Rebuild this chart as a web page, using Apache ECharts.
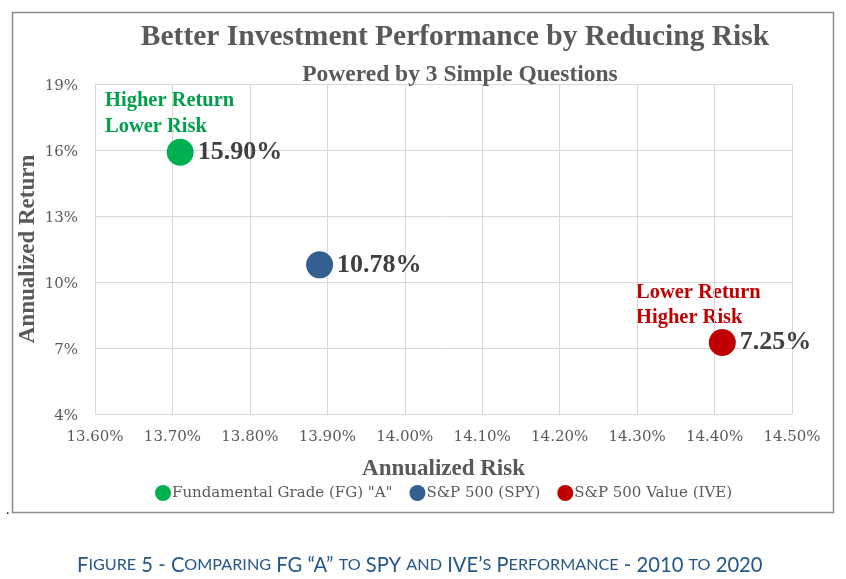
<!DOCTYPE html>
<html><head><meta charset="utf-8">
<script src="https://cdn.jsdelivr.net/npm/echarts@6/dist/echarts.min.js"></script>
<style>html,body{margin:0;padding:0;background:#fff}#c{width:846px;height:579px}</style>
</head><body><div id="c"></div>
<script>
const seriesNames = ['Fundamental Grade (FG) "A"', 'S&P 500 (SPY)', 'S&P 500 Value (IVE)'];
const riskValues = [13.71, 13.89, 14.41];
const returnValues = [15.90, 10.78, 7.25];
const seriesColors = ['#00B050', '#355E91', '#C00000'];
const xTicks = [13.6, 13.7, 13.8, 13.9, 14.0, 14.1, 14.2, 14.3, 14.4, 14.5];
const yTicks = [4, 7, 10, 13, 16, 19];

const chart = echarts.init(document.getElementById('c'), null, {renderer: 'canvas'});
const grey = '#595959';
const serif = '"Liberation Serif", serif';
const dserif = '"DejaVu Serif", serif';

const series = seriesNames.map((n, i) => ({
  name: n,
  type: 'scatter',
  symbolSize: 27,
  itemStyle: {color: seriesColors[i], opacity: 1},
  data: [[riskValues[i], returnValues[i]]],
  label: {
    show: true, position: 'right', distance: 4,
    formatter: p => p.value[1].toFixed(2) + '%',
    fontFamily: serif, fontWeight: 'bold', fontSize: 26, color: '#404040'
  },
  emphasis: {disabled: true}
}));

chart.setOption({
  animation: false,
  title: [
    {text: 'Better Investment Performance by Reducing Risk', left: 450, textAlign: 'center', top: 17,
     textStyle: {fontFamily: serif, fontWeight: 'bold', fontSize: 29.5, color: grey}},
    {text: 'Powered by 3 Simple Questions', left: 455, textAlign: 'center', top: 58,
     textStyle: {fontFamily: serif, fontWeight: 'bold', fontSize: 23.5, color: grey}}
  ],
  grid: {left: 95, right: 54, top: 84, bottom: 165, containLabel: false},
  xAxis: {
    type: 'value', min: xTicks[0], max: xTicks[xTicks.length - 1], interval: 0.1,
    name: 'Annualized Risk', nameLocation: 'middle', nameGap: 44,
    nameTextStyle: {fontFamily: serif, fontWeight: 'bold', fontSize: 23, color: grey},
    axisLine: {show: true, lineStyle: {color: '#d9d9d9', width: 1}},
    axisTick: {show: false},
    splitLine: {show: true, lineStyle: {color: '#d9d9d9', width: 1}},
    axisLabel: {formatter: v => v.toFixed(2) + '%', margin: 16,
      fontFamily: dserif, fontSize: 15, color: grey}
  },
  yAxis: {
    type: 'value', min: yTicks[0], max: yTicks[yTicks.length - 1], interval: 3,
    name: 'Annualized Return', nameLocation: 'middle', nameGap: 55, nameRotate: 90,
    nameMoveOverlap: false,
    nameTextStyle: {fontFamily: serif, fontWeight: 'bold', fontSize: 23, color: grey},
    axisLine: {show: true, lineStyle: {color: '#d9d9d9', width: 1}},
    axisTick: {show: false},
    splitLine: {show: true, lineStyle: {color: '#d9d9d9', width: 1}},
    axisLabel: {formatter: v => v + '%', margin: 17, verticalAlign: 'top', lineHeight: 4,
      fontFamily: dserif, fontSize: 15, color: grey}
  },
  legend: {
    data: seriesNames, left: 150, top: 480, icon: 'circle', itemWidth: 16, itemHeight: 16,
    itemGap: 17,
    textStyle: {fontFamily: dserif, fontSize: 15, color: grey, padding: [0, 0, 0, -4]}
  },
  graphic: [
    {type: 'rect', shape: {x: 12.5, y: 12.5, width: 821, height: 500}, silent: true,
     style: {fill: 'none', stroke: '#8c8c8c', lineWidth: 1.5}, z: -1},
    {type: 'text', left: 105, top: 88, silent: true,
     style: {text: 'Higher Return\nLower Risk', fill: '#00A04B', lineHeight: 26,
       font: 'bold 20.5px "Liberation Serif", serif'}},
    {type: 'text', left: 636, top: 280, silent: true,
     style: {text: 'Lower Return\nHigher Risk', fill: '#C00000', lineHeight: 25,
       font: 'bold 20.5px "Liberation Serif", serif'}},
    {type: 'text', left: 6, top: 503, silent: true,
     style: {text: '.', fill: '#000', font: '14px "Liberation Serif", serif'}},
    {type: 'text', left: 77, top: 555, silent: true,
     style: {
       text: 'F{s|IGURE} 5 - C{s|OMPARING} FG “A” {s|TO} SPY {s|AND} IVE’{s|S} P{s|ERFORMANCE} - 2010 {s|TO} 2020',
       fill: '#24578A', font: '20.2px Lato, sans-serif',
       rich: {s: {fontSize: 16.2, fontFamily: 'Lato, sans-serif', fill: '#24578A', color: '#24578A'}}
     }}
  ],
  series: series
});
</script></body></html>
